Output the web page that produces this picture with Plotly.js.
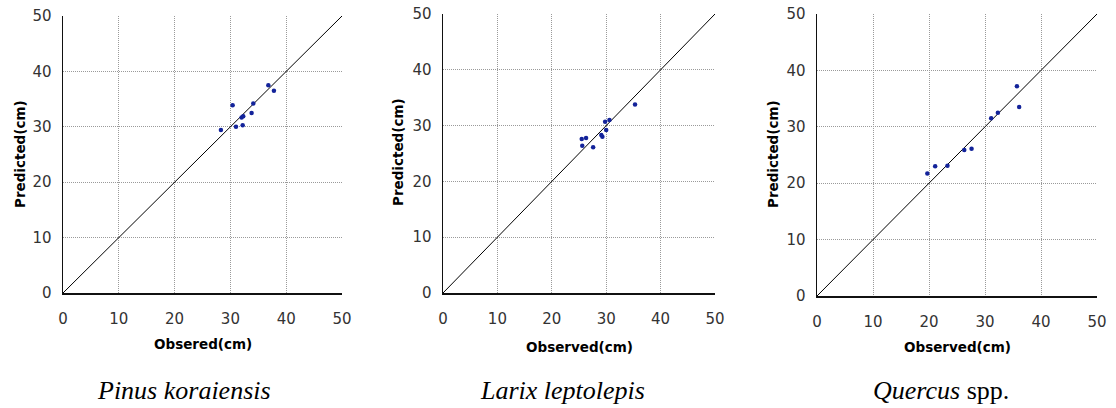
<!DOCTYPE html>
<html>
<head>
<meta charset="utf-8">
<script src="https://cdn.plot.ly/plotly-3.0.1.min.js"></script>
<style>html,body{margin:0;padding:0;background:#fff}#chart{width:1116px;height:408px}</style>
</head>
<body>
<div id="chart"></div>
<script>
// Data
const pinusObserved  = [28.3, 30.4, 31.0, 32.2, 32.0, 32.3, 33.8, 34.1, 36.8, 37.8];
const pinusPredicted = [29.4, 33.9, 30.0, 30.3, 31.7, 31.9, 32.5, 34.2, 37.5, 36.5];

const larixObserved  = [25.5, 26.3, 25.6, 27.6, 29.1, 29.3, 29.8, 30.0, 30.6, 35.3];
const larixPredicted = [27.6, 27.8, 26.4, 26.1, 28.3, 28.0, 30.7, 29.2, 31.0, 33.8];

const quercusObserved  = [19.7, 21.1, 23.3, 26.3, 27.6, 31.1, 32.3, 35.7, 36.1];
const quercusPredicted = [21.7, 23.0, 23.1, 25.9, 26.1, 31.5, 32.5, 37.2, 33.5];

const oneToOne = [0, 50];
const tickVals = [0, 10, 20, 30, 40, 50];
const xTitles = ['Obsered(cm)', 'Observed(cm)', 'Observed(cm)'];
const yTitle = 'Predicted(cm)';
const captions = ['<i>Pinus koraiensis</i>', '<i>Larix leptolepis</i>', '<i>Quercus</i> spp.'];

const W = 1116, H = 408;
// plot boxes in pixels [left, right, top, bottom]
const boxes = [[63, 342, 16, 293], [443, 715, 14, 293], [817, 1097, 14, 296]];
const series = [[pinusObserved, pinusPredicted], [larixObserved, larixPredicted], [quercusObserved, quercusPredicted]];
const yTitleX = [20, 398, 773];
const yTitleY = [154, 152, 154];
const xTitleY = [344, 347, 347];
const captionX = [184, 562, 941];

const serif = 'Liberation Serif';

const traces = [];
const layout = {
  width: W, height: H,
  margin: {l: 0, r: 0, t: 0, b: 0},
  paper_bgcolor: '#fff', plot_bgcolor: '#fff',
  showlegend: false,
  annotations: []
};

boxes.forEach((b, i) => {
  const sfx = i === 0 ? '' : String(i + 1);
  const xa = 'x' + sfx, ya = 'y' + sfx;
  traces.push({
    x: oneToOne, y: oneToOne, xaxis: xa, yaxis: ya,
    mode: 'lines', line: {color: '#000', width: 1}, hoverinfo: 'skip'
  });
  traces.push({
    x: series[i][0], y: series[i][1], xaxis: xa, yaxis: ya,
    mode: 'markers', marker: {color: '#13239a', size: 4.5}
  });
  const common = {
    range: [0, 50], tickvals: tickVals, ticktext: tickVals.map(String),
    showgrid: true, gridcolor: '#9a9a9a', griddash: '1px,1px', gridwidth: 1,
    zeroline: false, showline: true, linecolor: '#111', linewidth: 1.5,
    ticks: '', tickfont: {family: 'DejaVu Sans', size: 15, color: '#333'},
    fixedrange: true
  };
  layout['xaxis' + sfx] = Object.assign({}, common, {
    domain: [b[0] / W, b[1] / W], anchor: ya, ticklabelstandoff: 11
  });
  layout['yaxis' + sfx] = Object.assign({}, common, {
    domain: [(H - b[3]) / H, (H - b[2]) / H], anchor: xa, ticklabelstandoff: 7
  });
  layout.annotations.push({
    xref: 'paper', yref: 'paper', x: (b[0] + b[1]) / 2 / W, y: (H - xTitleY[i]) / H,
    xanchor: 'center', yanchor: 'middle', showarrow: false, text: '<b>' + xTitles[i] + '</b>',
    font: {family: 'DejaVu Sans', size: 13.5, color: '#000'}
  });
  layout.annotations.push({
    xref: 'paper', yref: 'paper', x: yTitleX[i] / W, y: (H - yTitleY[i]) / H,
    xanchor: 'center', yanchor: 'middle', showarrow: false, textangle: -90,
    text: '<b>' + yTitle + '</b>',
    font: {family: 'DejaVu Sans', size: 13.5, color: '#000'}
  });
  layout.annotations.push({
    xref: 'paper', yref: 'paper', x: captionX[i] / W, y: (H - 390) / H,
    xanchor: 'center', yanchor: 'middle', showarrow: false, text: captions[i],
    font: {family: serif, size: 26, color: '#000'}
  });
});

Plotly.newPlot('chart', traces, layout, {displayModeBar: false, staticPlot: true});
</script>
</body>
</html>
